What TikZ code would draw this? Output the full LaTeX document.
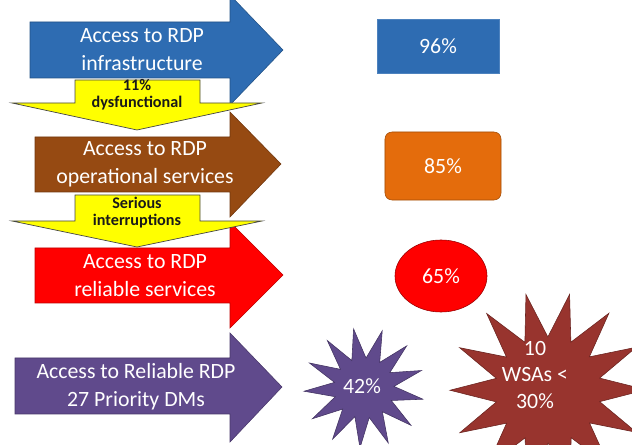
\documentclass[tikz,border=0pt]{standalone}
\usepackage{fontspec}
\setmainfont{Carlito}
\usetikzlibrary{shapes.geometric}
\definecolor{rdpblue}{RGB}{46,108,178}
\definecolor{rdpbrown}{RGB}{150,74,18}
\definecolor{rdporange}{RGB}{228,108,12}
\definecolor{rdpred}{RGB}{255,0,0}
\definecolor{rdppurple}{RGB}{96,74,140}
\definecolor{rdpmaroon}{RGB}{152,52,46}
\definecolor{rdpyellow}{RGB}{255,255,0}
\tikzset{
  pil/.style={draw=#1!75!black,fill=#1,line width=0.4pt},
  lbl/.style={text=white,align=center,font=\fontsize{15.5}{20}\selectfont},
  gul/.style={draw=gray!55!black,fill=rdpyellow,line width=0.5pt},
  glbl/.style={text=black!90,align=center,font=\bfseries\fontsize{11.5}{12}\selectfont},
  val/.style={text=white,align=center,font=\fontsize{15.5}{19}\selectfont},
}

\begin{document}
\begin{tikzpicture}[x=0.025cm,y=-0.025cm]
  \useasboundingbox (0,0) rectangle (632,445);
  \clip (0,0) rectangle (632,445);
  % the four big arrows
  \fill[pil=rdpblue] (30,22) -- (230,22) -- (230,-5) -- (283,50) -- (230,105) -- (230,78) -- (30,78) -- cycle;
  \fill[pil=rdpbrown] (35,137) -- (230,137) -- (230,112) -- (281,164) -- (230,217) -- (230,192) -- (35,192) -- cycle;
  \fill[pil=rdpred] (35,248) -- (230,248) -- (230,222) -- (283,275) -- (230,328) -- (230,303) -- (35,303) -- cycle;
  \fill[pil=rdppurple] (15,358) -- (230,358) -- (230,333) -- (282,387) -- (230,442) -- (230,414) -- (15,414) -- cycle;
  \node[lbl] (infra) at (142,50) {Access to RDP\\infrastructure};
  \node[lbl] (oper) at (145,164) {Access to RDP\\operational services};
  \node[lbl] (relia) at (145,276) {Access to RDP\\reliable services};
  \node[lbl] (prio) at (136,387) {Access to Reliable RDP\\27 Priority DMs};
  % yellow drops between them
  \draw[gul] (75,80) -- (200,80) -- (200,103) -- (262,103) -- (137,130) -- (12,103) -- (75,103) -- cycle;
  \draw[gul] (75,195) -- (200,195) -- (200,221) -- (262,221) -- (137,247) -- (12,221) -- (75,221) -- cycle;
  \node[glbl] (dysf) at (137,95) {11\%\\dysfunctional};
  \node[glbl] (inter) at (137,213) {Serious\\interruptions};
  % values
  \node[val,draw=rdpblue!85!white,fill=rdpblue,minimum width=3.05cm,minimum height=1.35cm] (v96) at (438,46) {96\%};
  \node[val,draw=rdporange!70!black,fill=rdporange,rounded corners=5pt,minimum width=2.9cm,minimum height=1.7cm] (v85) at (443,166) {85\%};
  \node[val,ellipse,draw=rdpred!60!black,fill=rdpred,minimum width=2.3cm,minimum height=1.8cm] (v65) at (441,276) {65\%};
  \node[val,star,star points=13,star point ratio=2,draw=rdppurple!70!black,fill=rdppurple,minimum size=3cm,inner sep=1pt,rotate=10] (v42) at (364,388) {};
  \node[val] (p42) at (362,386) {42\%};
  \node[val,star,star points=14,star point ratio=1.85,draw=rdpmaroon!70!black,fill=rdpmaroon,minimum size=4.9cm,inner sep=1pt,rotate=13] (v30) at (548,390) {};
  \node[val] (wsa) at (535,375) {10\\WSAs <\\30\%};
\end{tikzpicture}
\end{document}
